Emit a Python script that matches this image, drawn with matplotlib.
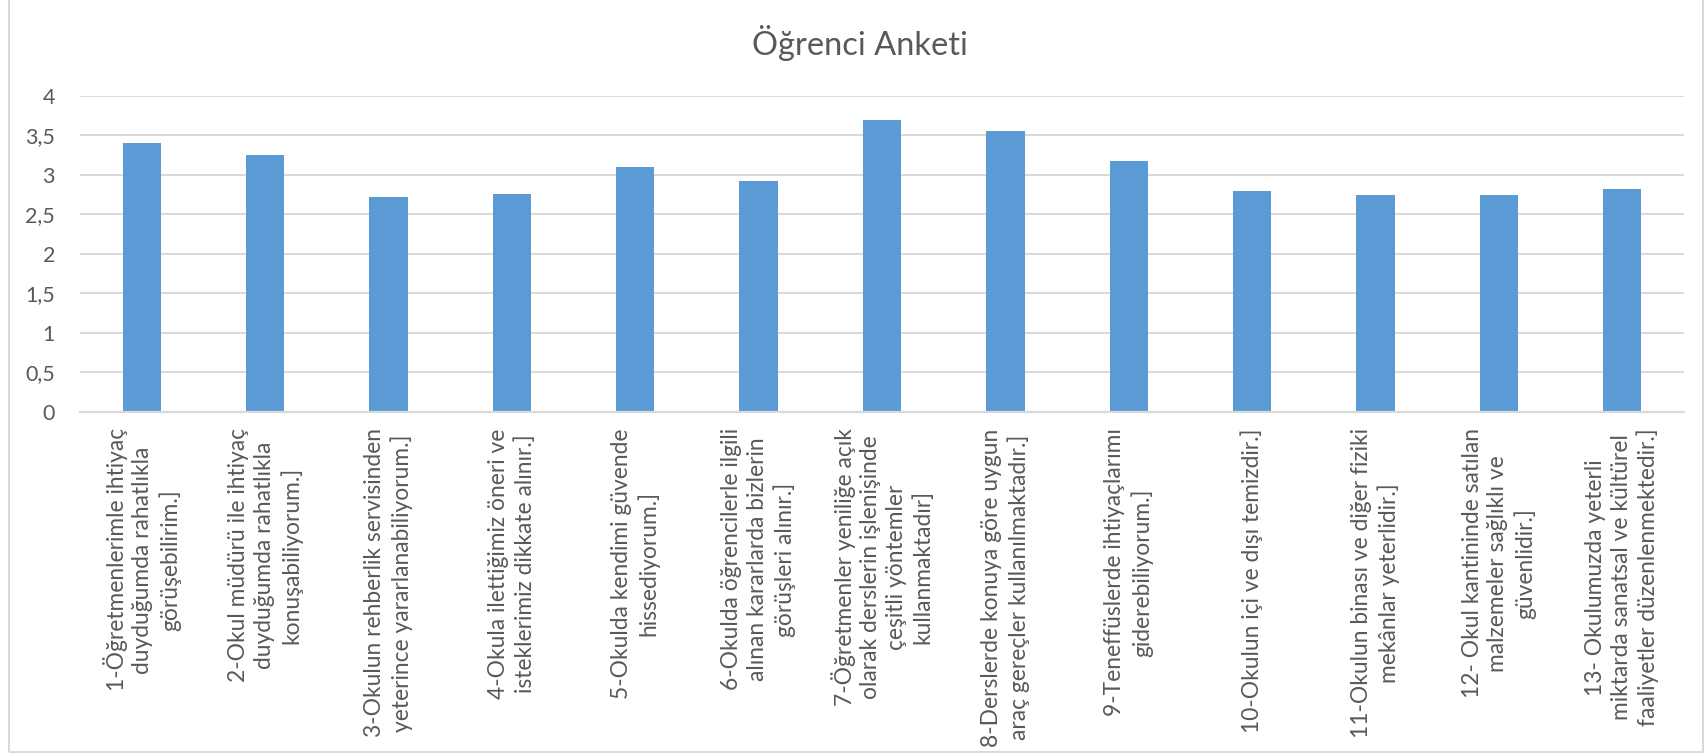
import matplotlib
matplotlib.use("Agg")
import matplotlib.pyplot as plt
from matplotlib.patches import Rectangle

title = "Öğrenci Anketi"
categories = [
    "1-Öğretmenlerimle ihtiyaç\nduyduğumda rahatlıkla\ngörüşebilirim.]",
    "2-Okul müdürü ile ihtiyaç\nduyduğumda rahatlıkla\nkonuşabiliyorum.]",
    "3-Okulun rehberlik servisinden\nyeterince yararlanabiliyorum.]",
    "4-Okula ilettiğimiz öneri ve\nisteklerimiz dikkate alınır.]",
    "5-Okulda kendimi güvende\nhissediyorum.]",
    "6-Okulda öğrencilerle ilgili\nalınan kararlarda bizlerin\ngörüşleri alınır.]",
    "7-Öğretmenler yeniliğe açık\nolarak derslerin işlenişinde\nçeşitli yöntemler\nkullanmaktadır]",
    "8-Derslerde konuya göre uygun\naraç gereçler kullanılmaktadır.]",
    "9-Teneffüslerde ihtiyaçlarımı\ngiderebiliyorum.]",
    "10-Okulun içi ve dışı temizdir.]",
    "11-Okulun binası ve diğer fiziki\nmekânlar yeterlidir.]",
    "12- Okul kantininde satılan\nmalzemeler sağlıklı ve\ngüvenlidir.]",
    "13- Okulumuzda yeterli\nmiktarda sanatsal ve kültürel\nfaaliyetler düzenlenmektedir.]",
]
values = [3.41, 3.25, 2.72, 2.76, 3.10, 2.92, 3.69, 3.56, 3.18, 2.79, 2.74, 2.74, 2.82]
yticks = [0, 0.5, 1, 1.5, 2, 2.5, 3, 3.5, 4]
ytick_labels = ["0", "0,5", "1", "1,5", "2", "2,5", "3", "3,5", "4"]

plt.rcParams['font.family'] = ['Lato', 'DejaVu Sans']
text_color = "#595959"
grid_color = "#D9D9D9"
bar_color = "#5B9BD5"

W, H = 1706, 754
fig = plt.figure(figsize=(W / 100, H / 100), dpi=100)
ax = fig.add_axes([80 / W, 1 - 411.7 / H, (1684 - 80) / W, (411.7 - 96) / H])

x = list(range(len(categories)))
ax.bar(x, values, width=0.31, color=bar_color, zorder=3)
ax.set_xlim(-0.5, len(categories) - 0.5)
ax.set_ylim(0, 4)
ax.set_yticks(yticks)
ax.set_yticklabels(ytick_labels, fontsize=15.5, color=text_color)
ax.set_xticks(x)
ax.set_xticklabels(categories, rotation=90, fontsize=16.4, color=text_color,
                   va='top', ha='center', multialignment='center', linespacing=1.27)
ax.tick_params(axis='y', length=0, pad=18)
ax.tick_params(axis='x', length=0, pad=12)
ax.yaxis.grid(True, color=grid_color, linewidth=1.4, zorder=0)
ax.set_axisbelow(True)
for s in ['top', 'right', 'left']:
    ax.spines[s].set_visible(False)
ax.spines['bottom'].set_color(grid_color)
ax.spines['bottom'].set_linewidth(1.6)
ax.spines['bottom'].set_zorder(4)

fig.text(860 / W, 1 - 43 / H, title, ha='center', va='center', fontsize=23.5, color=text_color)

fig.patches.append(Rectangle((9.3 / W, 2 / H), (1703 - 9.3) / W, 1.1, transform=fig.transFigure,
                             fill=False, edgecolor=grid_color, linewidth=1.4))

fig.savefig("out.png", dpi=100, facecolor="white")
